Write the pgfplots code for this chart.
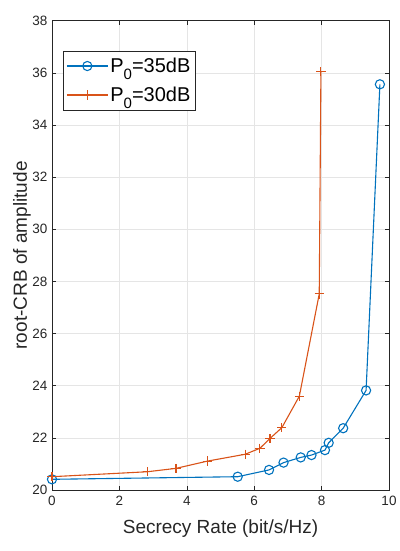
\documentclass[border=0pt]{standalone}
\usepackage{pgfplots}
\pgfplotsset{compat=1.18}
\usepackage{fontspec}
\setmainfont{Liberation Sans}
\definecolor{mblue}{rgb}{0,0.447,0.741}
\definecolor{mred}{rgb}{0.85,0.325,0.098}
\definecolor{axgray}{rgb}{0.15,0.15,0.15}
\newcommand{\sub}[1]{\raisebox{-6.5pt}{\fontsize{15}{15}\selectfont #1}}
\begin{document}
\begin{tikzpicture}
\useasboundingbox (0,0) rectangle (399pt,551pt);
\begin{axis}[
  at={(52pt,61pt)}, anchor=south west,
  scale only axis, width=337pt, height=469.3pt,
  xmin=0, xmax=10, ymin=20, ymax=38,
  xtick={0,2,...,10}, ytick={20,22,...,38},
  /pgf/number format/assume math mode=true,
  tick label style={font=\fontsize{13.5}{13.5}\selectfont, text=axgray},
  xticklabel style={yshift=-3pt},
  yticklabel style={xshift=-1pt},
  tick align=inside, major tick length=4pt,
  axis line style={axgray, line width=0.6pt},
  tick style={axgray, line width=0.6pt},
  grid=major, major grid style={gray!20, line width=0.5pt},
  xlabel={Secrecy Rate (bit/s/Hz)},
  ylabel={root-CRB of amplitude},
  label style={font=\fontsize{19}{19}\selectfont, text=axgray},
  xlabel style={at={(axis description cs:0.5,0)}, anchor=base, yshift=-43pt},
  ylabel style={at={(axis description cs:0,0.5)}, anchor=center, yshift=30pt},
  legend style={at={(0.0326,0.936)}, anchor=north west, draw=axgray, line width=0.6pt,
    font=\fontsize{20}{20}\selectfont, text=black, inner xsep=3pt, inner ysep=5pt,
    row sep=9pt, cells={anchor=west}},
  legend image code/.code={
    \draw[#1] (0pt,0pt) -- (41pt,0pt);
    \draw[#1, solid] plot coordinates {(20.5pt,0pt)};
  },
]
\addplot[mblue, line width=1.1pt, mark=o, mark size=4.6pt, mark options={line width=1.1pt}] coordinates {
(0,20.41) (5.51,20.51) (6.44,20.77) (6.87,21.05) (7.38,21.25) (7.70,21.34)
(8.10,21.53) (8.21,21.81) (8.64,22.37) (9.32,23.82) (9.73,35.56)
};
\addlegendentry{P\sub{0}=35dB}
\addplot[mred, line width=1.1pt, mark=+, mark size=4.6pt, mark options={line width=1.1pt}] coordinates {
(0,20.51) (2.83,20.70) (3.68,20.83) (4.62,21.11) (5.73,21.37) (6.17,21.60)
(6.47,21.98) (6.82,22.39) (7.34,23.60) (7.93,27.52) (7.98,36.04)
};
\addlegendentry{P\sub{0}=30dB}
\end{axis}
\end{tikzpicture}
\end{document}
